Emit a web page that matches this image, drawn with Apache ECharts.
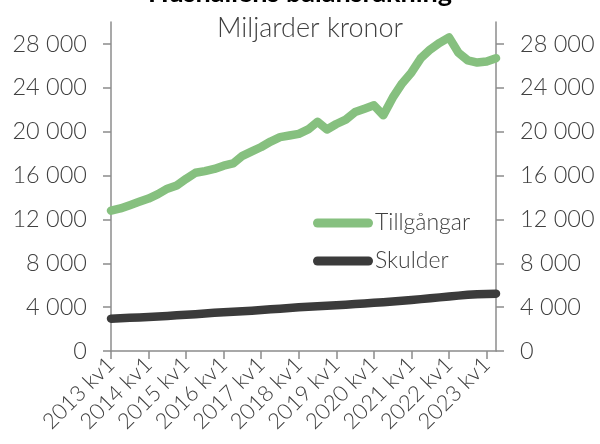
<!DOCTYPE html>
<html>
<head>
<meta charset="utf-8">
<script src="https://cdn.jsdelivr.net/npm/echarts@6/dist/echarts.min.js"></script>
<style>html,body{margin:0;padding:0;background:#fff}#c{width:600px;height:444px}</style>
</head>
<body>
<div id="c"></div>
<script>
const years = [2013,2014,2015,2016,2017,2018,2019,2020,2021,2022,2023];
const quarterLabels = [];
for (const y of years) for (let q = 1; q <= 4; q++) quarterLabels.push(y + ' kv' + q);
const categories = quarterLabels.slice(0, 42); // 2013 kv1 .. 2023 kv2

const tillgangar = [12800,13000,13300,13600,13900,14300,14800,15100,15700,16250,
  16400,16600,16900,17100,17800,18200,18600,19100,19500,19650,
  19800,20200,20900,20200,20700,21100,21800,22100,22400,21500,
  23100,24400,25400,26700,27500,28100,28600,27200,26500,26300,
  26400,26700];
const skulder = [2950,2990,3030,3060,3100,3150,3200,3250,3300,3360,
  3420,3480,3530,3580,3630,3680,3740,3800,3860,3920,
  3980,4030,4080,4120,4170,4220,4280,4340,4390,4450,
  4520,4580,4650,4730,4810,4890,4970,5050,5120,5170,
  5200,5230];
const yTicks = [0,4000,8000,12000,16000,20000,24000,28000];

const FONT = 'Lato';
const fmt = v => v === 0 ? '0' : (Math.floor(v/1000) + ' ' + String(v % 1000).padStart(3,'0'));
const axisCol = '#8c8c8c';
function yAxis(pos){
  return {
    type: 'value', position: pos, min: 0, max: 30000, interval: 4000,
    axisLine: {show: true, lineStyle: {color: axisCol, width: 1.5}},
    axisTick: {show: true, inside: false, length: 8, lineStyle: {color: axisCol, width: 1.5}, customValues: yTicks},
    axisLabel: {customValues: yTicks, formatter: fmt, margin: 24, color: '#404040', fontFamily: FONT, fontSize: 23.5, fontWeight: 300},
    splitLine: {show: false}
  };
}
const chart = echarts.init(document.getElementById('c'));
chart.setOption({
  animation: false,
  backgroundColor: '#fff',
  title: [
    {text: 'Hushållens balansräkning', left: 'center', top: -25, textStyle: {fontFamily: FONT, fontSize: 27, fontWeight: 'bold', color: '#000'}},
    {text: 'Miljarder kronor', left: 305, textAlign: 'center', top: 10, textStyle: {fontFamily: FONT, fontSize: 27, fontWeight: 300, color: '#404040'}}
  ],
  grid: {left: 111, right: 104, top: 22, bottom: 93, containLabel: false},
  legend: {
    orient: 'vertical', left: 308, top: 205, itemGap: 12, itemWidth: 60, itemHeight: 9,
    data: [
      {name: 'Tillgångar', icon: 'path://M4.5,0 H55.5 A4.5,4.5 0 0 1 55.5,9 H4.5 A4.5,4.5 0 0 1 4.5,0 Z'},
      {name: 'Skulder', icon: 'path://M4.5,0 H55.5 A4.5,4.5 0 0 1 55.5,9 H4.5 A4.5,4.5 0 0 1 4.5,0 Z'}
    ],
    textStyle: {fontFamily: FONT, fontSize: 23, fontWeight: 300, color: '#404040', lineHeight: 26, padding: [0,0,0,-3]}
  },
  xAxis: {
    type: 'category', data: categories, boundaryGap: false,
    axisLine: {lineStyle: {color: axisCol, width: 1.5}},
    axisTick: {show: true, interval: 3, length: 8, lineStyle: {color: axisCol, width: 1.5}},
    axisLabel: {interval: 3, rotate: 45, margin: 10, color: '#404040', fontFamily: FONT, fontSize: 22, fontWeight: 300},
    splitLine: {show: false}
  },
  yAxis: [yAxis('left'), yAxis('right')],
  series: [
    {name: 'Tillgångar', type: 'line', data: tillgangar, yAxisIndex: 0, symbol: 'none', smooth: false,
     color: '#86c07f', lineStyle: {width: 8.5, color: '#86c07f', cap: 'round', join: 'round'}},
    {name: 'Skulder', type: 'line', data: skulder, yAxisIndex: 0, symbol: 'none',
     color: '#3b3b3b', lineStyle: {width: 8.5, color: '#3b3b3b', cap: 'round', join: 'round'}}
  ]
});
</script>
</body>
</html>
